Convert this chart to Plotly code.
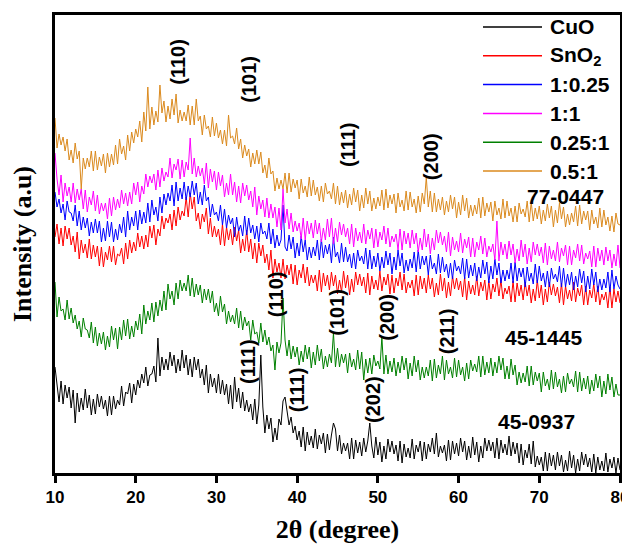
import plotly.graph_objects as go

# 2-theta sampling: 10 to 80 degrees, step 0.25
two_theta_start = 10.0
two_theta_step = 0.25

# Intensities (arbitrary units)
cuo = [
    106, 87, 71, 92, 69, 88, 75, 86, 65, 83, 50, 80, 61, 75, 63, 84, 65, 78, 58, 74,
    59, 79, 66, 77, 64, 73, 57, 77, 58, 77, 64, 73, 68, 87, 67, 81, 79, 90, 70, 89,
    78, 93, 85, 99, 90, 106, 87, 98, 99, 107, 91, 135, 97, 116, 103, 114, 103, 121, 107, 118,
    100, 114, 102, 123, 105, 118, 98, 114, 96, 116, 103, 114, 95, 104, 88, 108, 80, 99, 86, 95,
    80, 99, 79, 93, 78, 89, 69, 88, 64, 96, 71, 85, 65, 81, 62, 73, 61, 69, 53, 74,
    49, 68, 118, 66, 40, 58, 44, 55, 31, 45, 33, 54, 48, 72, 76, 62, 48, 56, 40, 47,
    33, 42, 26, 46, 22, 41, 28, 37, 25, 44, 24, 38, 29, 40, 20, 39, 23, 38, 50, 44,
    22, 38, 19, 30, 22, 30, 14, 35, 14, 33, 20, 31, 17, 35, 21, 32, 50, 27, 15, 36,
    18, 31, 11, 27, 14, 34, 21, 32, 19, 28, 12, 32, 10, 29, 16, 25, 15, 34, 14, 28,
    21, 32, 12, 31, 14, 29, 21, 35, 19, 40, 16, 27, 20, 28, 12, 33, 13, 32, 19, 30,
    17, 35, 21, 32, 13, 27, 15, 36, 18, 31, 11, 27, 15, 35, 22, 33, 22, 31, 15, 35,
    14, 33, 20, 29, 18, 37, 17, 31, 19, 30, 10, 29, 8, 23, 15, 29, 9, 32, 6, 17,
    8, 16, 2, 21, 2, 20, 7, 18, 3, 21, 7, 18, 1, 13, 2, 22, 5, 18, 0, 14,
    2, 21, 8, 19, 6, 15, 1, 19, 0, 16, 3, 12, 2, 20, 1, 14, 5, 16, 0, 15,
    3,
]

sno2 = [
    236, 249, 229, 245, 227, 247, 234, 245, 228, 237, 221, 241, 214, 233, 220, 229, 215, 234, 214, 228,
    216, 227, 207, 226, 206, 221, 213, 227, 211, 227, 208, 219, 217, 225, 209, 230, 214, 233, 220, 231,
    222, 240, 226, 237, 224, 238, 226, 247, 235, 248, 228, 244, 237, 257, 244, 255, 250, 259, 243, 263,
    247, 266, 253, 262, 257, 276, 256, 280, 264, 276, 252, 260, 244, 259, 251, 265, 239, 255, 236, 247,
    236, 244, 228, 249, 227, 246, 233, 244, 228, 246, 232, 243, 220, 234, 222, 243, 221, 234, 214, 230,
    210, 230, 217, 228, 210, 219, 203, 223, 195, 214, 201, 210, 195, 214, 194, 208, 198, 209, 189, 208,
    188, 203, 195, 209, 190, 206, 187, 198, 190, 198, 182, 203, 181, 200, 187, 198, 183, 201, 187, 198,
    179, 193, 181, 202, 185, 198, 178, 194, 181, 201, 188, 199, 187, 196, 180, 200, 178, 197, 184, 193,
    183, 202, 182, 196, 188, 199, 179, 198, 180, 195, 187, 201, 183, 199, 180, 191, 185, 193, 177, 198,
    178, 197, 184, 195, 180, 198, 184, 195, 176, 190, 178, 199, 182, 195, 175, 191, 177, 197, 184, 195,
    183, 192, 176, 196, 173, 192, 179, 188, 178, 197, 177, 191, 182, 193, 173, 192, 174, 189, 181, 195,
    177, 193, 174, 185, 179, 187, 171, 192, 171, 190, 177, 188, 173, 191, 177, 188, 170, 184, 172, 193,
    175, 188, 168, 184, 171, 191, 178, 189, 177, 186, 170, 190, 168, 187, 174, 183, 172, 191, 171, 185,
    177, 188, 168, 187, 168, 183, 175, 189, 171, 187, 168, 179, 173, 181, 165, 186, 165, 184, 171, 182,
    170,
]

ratio_1_025 = [
    281, 266, 274, 260, 269, 253, 272, 261, 260, 252, 268, 247, 262, 243, 256, 245, 255, 237, 251, 240,
    254, 240, 252, 231, 245, 232, 252, 236, 251, 231, 244, 233, 249, 240, 256, 236, 262, 243, 256, 247,
    262, 243, 263, 249, 261, 250, 270, 251, 273, 258, 266, 252, 276, 260, 279, 268, 280, 272, 288, 267,
    291, 272, 285, 274, 291, 273, 287, 276, 292, 278, 290, 269, 281, 268, 288, 272, 276, 256, 269, 258,
    261, 252, 268, 248, 264, 245, 258, 249, 255, 236, 256, 242, 248, 237, 257, 238, 255, 240, 248, 234,
    247, 231, 250, 239, 242, 234, 250, 229, 244, 225, 238, 227, 233, 268, 226, 222, 238, 224, 236, 215,
    230, 217, 237, 221, 233, 213, 226, 215, 226, 217, 233, 213, 234, 215, 228, 219, 229, 210, 236, 216,
    221, 210, 230, 211, 226, 211, 219, 205, 220, 204, 223, 212, 217, 209, 225, 204, 223, 204, 217, 206,
    220, 202, 216, 205, 222, 208, 220, 199, 216, 203, 223, 207, 220, 200, 213, 202, 214, 205, 221, 201,
    223, 204, 217, 208, 217, 198, 218, 204, 210, 199, 219, 200, 216, 201, 209, 195, 210, 194, 213, 202,
    207, 199, 215, 194, 214, 195, 208, 197, 210, 192, 206, 195, 213, 199, 211, 190, 207, 194, 214, 198,
    210, 190, 203, 192, 203, 194, 210, 190, 211, 192, 205, 196, 205, 186, 206, 192, 200, 189, 209, 190,
    207, 192, 200, 186, 202, 186, 205, 194, 199, 191, 207, 186, 205, 186, 199, 188, 201, 183, 197, 186,
    204, 190, 202, 181, 197, 184, 204, 188, 201, 181, 194, 183, 194, 185, 201, 181, 203, 184, 197, 188,
    184,
]

ratio_1_1 = [
    320, 294, 278, 298, 271, 290, 277, 286, 271, 290, 270, 284, 273, 284, 264, 283, 261, 276, 268, 282,
    262, 278, 259, 270, 262, 270, 254, 275, 257, 276, 263, 274, 265, 283, 269, 280, 267, 281, 269, 290,
    278, 291, 271, 287, 279, 299, 286, 297, 290, 299, 283, 303, 286, 305, 292, 301, 296, 315, 295, 309,
    303, 314, 294, 313, 296, 311, 303, 335, 299, 315, 296, 307, 297, 305, 289, 310, 285, 304, 291, 302,
    283, 301, 287, 298, 276, 290, 278, 299, 278, 291, 271, 287, 270, 290, 277, 288, 273, 282, 266, 286,
    258, 277, 264, 273, 256, 275, 255, 269, 255, 266, 246, 265, 243, 284, 250, 264, 244, 260, 241, 252,
    242, 250, 234, 255, 233, 252, 239, 250, 235, 253, 239, 250, 231, 245, 233, 254, 236, 255, 229, 245,
    231, 251, 238, 249, 236, 245, 229, 249, 226, 245, 232, 241, 230, 249, 229, 243, 234, 245, 225, 244,
    226, 241, 233, 247, 229, 245, 226, 237, 231, 239, 223, 244, 223, 242, 229, 240, 225, 243, 229, 240,
    221, 235, 223, 244, 226, 239, 219, 235, 223, 243, 230, 241, 228, 237, 221, 241, 217, 236, 223, 232,
    221, 240, 220, 234, 225, 236, 216, 235, 216, 231, 223, 237, 219, 235, 216, 227, 221, 229, 213, 252,
    212, 231, 218, 229, 214, 232, 218, 229, 210, 224, 212, 233, 216, 229, 209, 225, 211, 231, 218, 229,
    217, 226, 210, 230, 208, 227, 214, 223, 212, 231, 211, 225, 217, 228, 208, 227, 208, 223, 215, 229,
    212, 228, 209, 220, 214, 222, 206, 227, 206, 225, 212, 223, 208, 226, 212, 223, 205, 219, 207, 228,
    205,
]

ratio_025_1 = [
    191, 156, 176, 162, 164, 153, 173, 154, 165, 150, 158, 144, 152, 136, 155, 144, 143, 135, 151, 130,
    146, 127, 140, 129, 141, 123, 137, 126, 147, 133, 145, 124, 146, 133, 153, 137, 154, 134, 147, 136,
    152, 143, 159, 139, 168, 149, 162, 153, 170, 151, 171, 157, 173, 162, 182, 163, 189, 174, 182, 168,
    190, 174, 193, 182, 190, 182, 198, 177, 195, 176, 189, 178, 188, 170, 184, 173, 184, 170, 182, 161,
    170, 157, 177, 161, 169, 149, 162, 151, 158, 149, 165, 145, 162, 143, 156, 147, 152, 133, 153, 139,
    141, 130, 150, 131, 143, 128, 136, 122, 128, 103, 131, 120, 130, 175, 133, 117, 133, 114, 127, 116,
    126, 108, 122, 111, 128, 114, 126, 105, 121, 108, 128, 112, 124, 104, 117, 106, 119, 110, 140, 106,
    125, 106, 119, 110, 119, 100, 120, 106, 114, 103, 123, 104, 121, 93, 114, 100, 115, 99, 118, 107,
    112, 104, 136, 99, 118, 99, 112, 101, 115, 97, 111, 100, 117, 103, 115, 94, 110, 97, 117, 101,
    113, 93, 106, 95, 106, 97, 113, 92, 114, 95, 108, 99, 117, 93, 113, 99, 106, 95, 115, 96,
    113, 98, 106, 92, 110, 94, 113, 102, 109, 101, 117, 96, 117, 98, 111, 100, 115, 97, 111, 100,
    117, 103, 115, 94, 107, 94, 114, 98, 108, 88, 101, 90, 100, 91, 107, 87, 107, 88, 101, 92,
    100, 81, 101, 87, 94, 83, 103, 84, 101, 86, 94, 80, 97, 81, 100, 89, 94, 86, 102, 81,
    101, 82, 95, 84, 97, 79, 93, 82, 99, 85, 97, 76, 92, 79, 99, 83, 96, 76, 89, 78,
    78,
]

ratio_05_1 = [
    355, 325, 339, 328, 336, 322, 334, 313, 323, 310, 330, 314, 322, 284, 315, 304, 315, 306, 322, 302,
    322, 303, 316, 307, 319, 300, 320, 306, 319, 308, 328, 309, 334, 319, 327, 313, 338, 322, 341, 330,
    344, 336, 352, 331, 361, 342, 386, 344, 366, 348, 362, 351, 388, 360, 372, 351, 367, 354, 374, 358,
    379, 350, 363, 352, 361, 352, 368, 348, 367, 348, 374, 352, 357, 338, 358, 344, 347, 336, 356, 337,
    350, 335, 343, 329, 343, 327, 358, 335, 337, 329, 345, 324, 334, 315, 328, 317, 324, 306, 320, 309,
    323, 309, 321, 300, 308, 295, 315, 299, 302, 282, 295, 284, 293, 284, 300, 280, 300, 281, 294, 285,
    293, 274, 294, 280, 287, 276, 296, 277, 293, 278, 286, 272, 287, 271, 290, 279, 282, 274, 290, 269,
    287, 268, 281, 270, 283, 265, 279, 268, 285, 271, 283, 262, 278, 265, 285, 269, 282, 262, 275, 264,
    276, 267, 283, 263, 284, 265, 278, 269, 279, 260, 280, 266, 273, 262, 282, 263, 281, 266, 274, 260,
    277, 261, 280, 269, 296, 266, 282, 261, 280, 261, 274, 263, 276, 258, 272, 261, 278, 264, 276, 255,
    271, 258, 278, 262, 275, 255, 268, 257, 268, 259, 275, 255, 276, 257, 270, 261, 271, 252, 272, 258,
    265, 254, 274, 255, 272, 257, 265, 251, 267, 251, 270, 259, 264, 256, 272, 251, 271, 252, 265, 254,
    267, 249, 263, 252, 269, 255, 267, 246, 263, 250, 270, 254, 266, 246, 259, 248, 260, 251, 267, 247,
    268, 249, 262, 253, 262, 243, 263, 249, 256, 245, 265, 246, 263, 248, 256, 242, 257, 241, 260, 249,
    248,
]

series_names = ["CuO", "SnO<sub>2</sub>", "1:0.25", "1:1", "0.25:1", "0.5:1"]
series_values = [cuo, sno2, ratio_1_025, ratio_1_1, ratio_025_1, ratio_05_1]
series_colors = ["#000000", "#FF0000", "#0000FF", "#FF00FF", "#008000", "#DB8A1E"]

x_ticks = [10, 20, 30, 40, 50, 60, 70, 80]

# Peak (hkl) labels: (text, 2theta, intensity)
peak_labels = [
    ("(110)", 25.2, 411), ("(101)", 34.0, 394), ("(111)", 46.3, 328), ("(200)", 56.6, 316),
    ("(110)", 37.4, 179), ("(101)", 44.9, 161), ("(200)", 51.1, 156), ("(211)", 58.6, 142),
    ("(111)", 33.9, 111), ("(111)", 40.0, 83), ("(202)", 49.4, 73),
]
card_labels = [("77-0447", 73.3, 277), ("45-1445", 70.5, 136), ("45-0937", 69.7, 52)]

SANS = "Liberation Sans, Arial, sans-serif"
SERIF = "Liberation Serif, Times New Roman, serif"

fig = go.Figure()
for name, vals, col in zip(series_names, series_values, series_colors):
    xs = [two_theta_start + two_theta_step * i for i in range(len(vals))]
    fig.add_trace(go.Scatter(x=xs, y=vals, mode="lines", name=name,
                             line=dict(color=col, width=1), showlegend=False))

annotations = []
for txt, xx, yy in peak_labels:
    annotations.append(dict(x=xx, y=yy, xref="x", yref="y", text=txt, textangle=-90,
                            showarrow=False, font=dict(family=SANS, size=20, color="black", weight="bold")))
for txt, xx, yy in card_labels:
    annotations.append(dict(x=xx, y=yy, xref="x", yref="y", text=txt,
                            showarrow=False, font=dict(family=SANS, size=21, color="black", weight="bold")))

# The page body adds an 8px offset, so the figure is 8px smaller and
# plot area is placed at page pixels x 55..620, y 15..473.
FIG_W, FIG_H = 622, 537
M_L, M_R, M_T, M_B = 47, 10, 7, 72
pw = FIG_W - M_L - M_R
ph = FIG_H - M_T - M_B
page_off = 8

# custom legend (long line samples as in the original)
shapes = []
for k, (name, col) in enumerate(zip(series_names, series_colors)):
    py = 27 + 28.8 * k - page_off - M_T
    yp = 1 - py / ph
    shapes.append(dict(type="line", xref="paper", yref="paper",
                       x0=(483 - page_off - M_L) / pw, x1=(542 - page_off - M_L) / pw, y0=yp, y1=yp,
                       line=dict(color=col, width=1.5)))
    annotations.append(dict(x=(548 - page_off - M_L) / pw, y=yp, xref="paper", yref="paper",
                            text=name, xanchor="left", yanchor="middle", showarrow=False,
                            font=dict(family=SANS, size=21, color="black", weight="bold")))

fig.update_layout(
    width=FIG_W, height=FIG_H,
    margin=dict(l=M_L, r=M_R, t=M_T, b=M_B),
    paper_bgcolor="white", plot_bgcolor="white",
    showlegend=False,
    annotations=annotations, shapes=shapes,
    xaxis=dict(range=[10, 80], tickvals=x_ticks, ticks="outside", ticklen=7, tickwidth=2.5,
               tickcolor="black", showline=True, linewidth=3, linecolor="black", mirror=True,
               showgrid=False, zeroline=False, automargin=False,
               tickfont=dict(family=SANS, size=17, color="black", weight="bold"),
               title=dict(text="2θ (degree)", standoff=14,
                          font=dict(family=SERIF, size=26, color="black", weight="bold"))),
    yaxis=dict(range=[0, 458], showticklabels=False, ticks="", showline=True, linewidth=3,
               linecolor="black", mirror=True, showgrid=False, zeroline=False, automargin=False,
               title=dict(text="Intensity (a.u)", standoff=17,
                          font=dict(family=SERIF, size=26, color="black", weight="bold"))),
)

fig.write_html("out.html")
